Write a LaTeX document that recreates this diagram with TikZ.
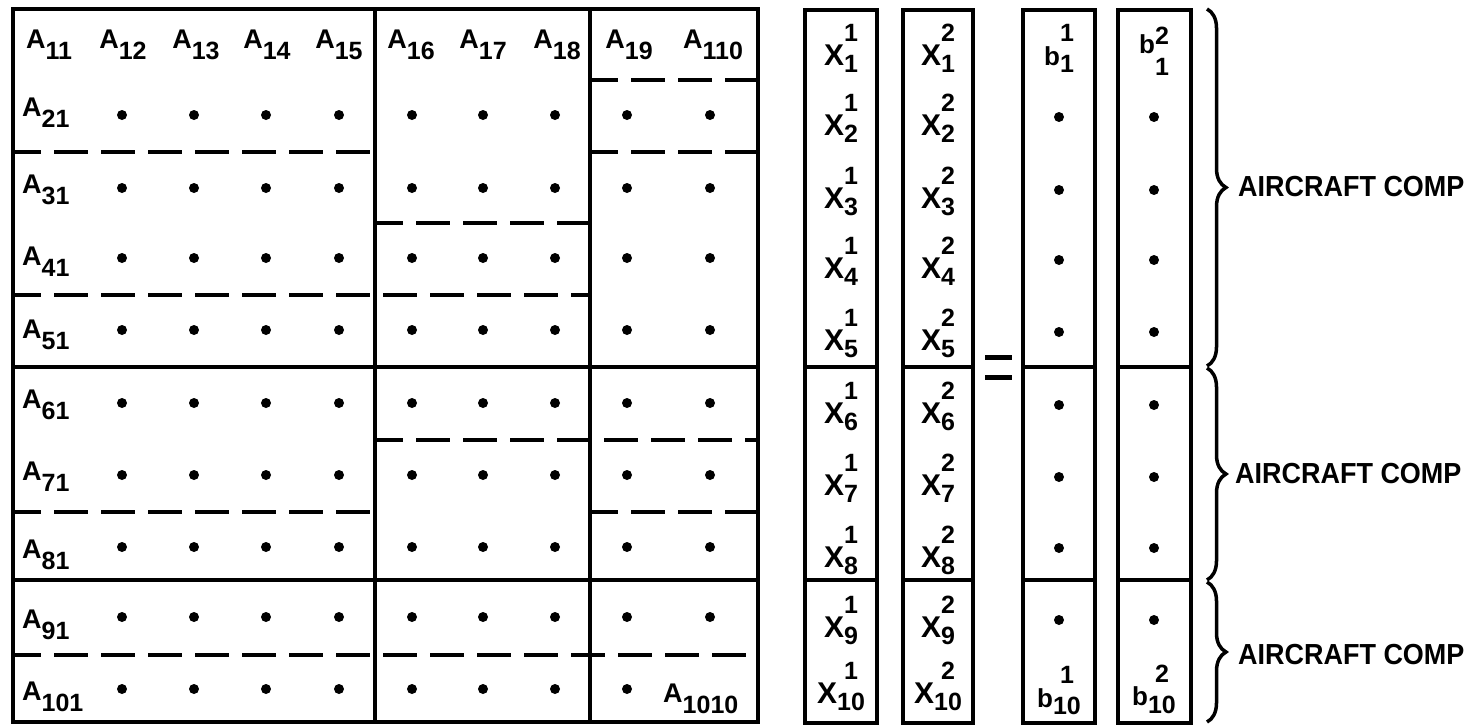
\documentclass[tikz,border=0pt]{standalone}
\usepackage{fontspec}
\setmainfont{Liberation Sans}
\usetikzlibrary{decorations.pathreplacing}

% matrix entry A_ij and stacked vector symbols
\newcommand{\ea}[1]{A\raisebox{-11pt}{\fontsize{25}{25}\selectfont\bfseries #1}}
\newcommand{\stk}[3]{\raisebox{-#1}{\fontsize{25}{31}\selectfont\bfseries\begin{tabular}[b]{@{}c@{}}#2\\#3\end{tabular}}}
\newcommand{\vx}[3][7pt]{{\fontsize{30}{30}\selectfont\bfseries X}\stk{#1}{#2}{#3}}
\newcommand{\vb}[3][7pt]{{\fontsize{26}{26}\selectfont\bfseries b}\stk{#1}{#2}{#3}}

\begin{document}
\begin{tikzpicture}[x=1pt, y=-1pt,
        frame/.style={line width=4.5pt},
        cut/.style={line width=3.5pt},
        part/.style={line width=3.2pt, dash pattern=on 34pt off 13pt, dash phase=6pt},
        ent/.style={inner sep=0pt, font=\fontsize{27}{27}\selectfont\bfseries},
        vec/.style={inner sep=0pt, anchor=base},
        brc/.style={decorate, decoration={brace, amplitude=19pt}, line width=3.5pt},
        grp/.style={anchor=west, inner sep=0pt, font=\fontsize{29}{29}\selectfont\bfseries}
    ]
        \useasboundingbox (0,0) rectangle (1470,726);

        % coefficient matrix
        \draw[frame] (13,9) rectangle (758,722);
        \draw[cut] (375,9) -- (375,722);
        \draw[cut] (590,9) -- (590,722);
        \draw[cut] (13,367) -- (758,367);
        \draw[cut] (13,580) -- (758,580);

        \draw[part] (590,80) -- (758,80);
        \draw[part] (13,152) -- (375,152);
        \draw[part] (590,152) -- (758,152);
        \draw[part] (375,223) -- (590,223);
        \draw[part] (13,295) -- (590,295);
        \draw[part] (375,440) -- (758,440);
        \draw[part] (13,512) -- (375,512);
        \draw[part] (590,512) -- (758,512);
        \draw[part] (13,655) -- (758,655);

        \foreach \x/\s [count=\j] in {49/11,123/12,196/13,267/14,339/15,411/16,483/17,557/18,629/19,713/110}
            \node[ent, anchor=base] (a1-\j) at (\x,48) {\ea{\s}};
        \foreach \y/\s [count=\i from 2] in {116/21,193/31,265/41,338/51,408/61,480/71,558/81,628/91,700/101}
            \node[ent, anchor=base west] (a\i-1) at (22,\y) {\ea{\s}};
        \node[ent, anchor=base west] (a10-10) at (663,702) {\ea{1010}};

        \foreach \y in {115,188,258,330,403,475,547,617}
            \foreach \x in {122,194,266,339,412,483,555,627,710}
                \fill (\x,\y) circle (5pt);
        \foreach \x in {122,194,266,339,412,483,555,627}
            \fill (\x,689) circle (5pt);

        % unknown and right-hand side vectors
        \foreach \l/\r in {805/877,903/973,1023/1095,1118/1191} {
            \draw[frame] (\l,10) rectangle (\r,723);
            \draw[cut] (\l,367) -- (\r,367);
            \draw[cut] (\l,580) -- (\r,580);
        }
        \foreach \y [count=\i] in {65,135,208,278,350,423,495,567,637,703} {
            \node[vec] (x1-\i) at (841,\y) {\vx{1}{\i}};
            \node[vec] (x2-\i) at (938,\y) {\vx{2}{\i}};
        }
        \node[vec] (b1-1) at (1059,65) {\vb{1}{1}};
        \node[vec] (b1-10) at (1059,707) {\vb{1}{10}};
        \node[vec] (b2-1) at (1154,53) {\vb[22pt]{2}{1}};
        \node[vec] (b2-10) at (1154,705) {\vb[8pt]{2}{10}};
        \foreach \y in {117,190,260,332,405,477,548,620}
            \foreach \x in {1059,1154}
                \fill (\x,\y) circle (5pt);

        % equals sign
        \fill (985,355) rectangle (1012,360);
        \fill (985,375) rectangle (1012,380);

        % component groups
        \coordinate (g1t) at (1207,9);
        \coordinate (g1b) at (1207,366);
        \coordinate (g2t) at (1207,368);
        \coordinate (g2b) at (1207,580);
        \coordinate (g3t) at (1207,582);
        \coordinate (g3b) at (1207,722);
        \draw[brc] (g1t) -- (g1b);
        \draw[brc] (g2t) -- (g2b);
        \draw[brc] (g3t) -- (g3b);
        \node[grp] (g1) at (1238,187) {\scalebox{0.93}[1]{AIRCRAFT COMP}};
        \node[grp] (g2) at (1235,474) {\scalebox{0.93}[1]{AIRCRAFT COMP}};
        \node[grp] (g3) at (1238,655) {\scalebox{0.93}[1]{AIRCRAFT COMP}};
    \end{tikzpicture}
\end{document}
